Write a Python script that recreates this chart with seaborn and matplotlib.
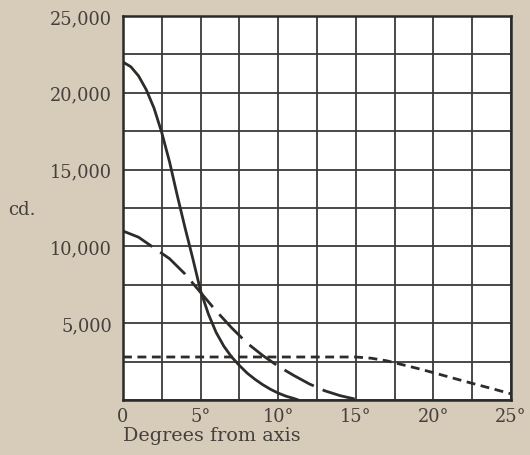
import numpy as np
import pandas as pd
import seaborn as sns
import matplotlib.pyplot as plt
from matplotlib.ticker import MultipleLocator

# curves (degrees, candela)
solid_deg = [0, 0.5, 1, 1.5, 2, 2.5, 3, 3.5, 4, 4.5, 5, 5.5, 6, 6.5, 7, 7.5, 8, 8.5, 9, 9.5, 10, 10.5, 11, 11.3]
solid_cd = [22000, 21700, 21100, 20200, 19000, 17400, 15500, 13300, 11200, 9200, 7100, 5600,
            4400, 3500, 2800, 2250, 1750, 1350, 1000, 700, 450, 250, 100, 0]

long_deg = [0, 1, 2, 3, 4, 5, 6, 7, 8, 9, 10, 11, 12, 13, 14, 15, 15.4]
long_cd = [11000, 10600, 9900, 9200, 8200, 7000, 5800, 4700, 3700, 2900, 2200, 1600, 1050, 600, 280, 50, 0]

short_deg = [0, 5, 10, 15, 16, 17, 18, 19, 20, 21, 22, 23, 24, 25]
short_cd = [2800, 2800, 2800, 2800, 2720, 2550, 2300, 2050, 1780, 1500, 1220, 950, 680, 400]

xticks = [0, 5, 10, 15, 20, 25]
xlabels = ["0", "5°", "10°", "15°", "20°", "25°"]
yticks = [5000, 10000, 15000, 20000, 25000]
ylabels = ["5,000", "10,000", "15,000", "20,000", "25,000"]

bg = "#d7cbba"
ink = "#45403b"

sns.set_theme(style="white")
plt.rcParams['font.family'] = ['DejaVu Serif']

fig = plt.figure(figsize=(5.3, 4.56), dpi=100, facecolor=bg)
ax = fig.add_axes([123/530, 1-401/456, 388/530, 384/456])
ax.set_facecolor("white")

sns.lineplot(x=solid_deg, y=solid_cd, ax=ax, color="#2e2b28", lw=2.0)
sns.lineplot(x=long_deg, y=long_cd, ax=ax, color="#2e2b28", lw=2.0)
ax.lines[-1].set_dashes([12, 3.5])
sns.lineplot(x=short_deg, y=short_cd, ax=ax, color="#2e2b28", lw=2.0)
ax.lines[-1].set_dashes([3.2, 2])

ax.set_xlim(0, 25)
ax.set_ylim(0, 25000)
ax.set_xticks(xticks)
ax.set_xticklabels(xlabels)
ax.set_yticks(yticks)
ax.set_yticklabels(ylabels)
ax.xaxis.set_minor_locator(MultipleLocator(2.5))
ax.yaxis.set_minor_locator(MultipleLocator(2500))
ax.grid(True, which="both", color="#3a3a3a", lw=1.3)
ax.set_axisbelow(True)
ax.tick_params(which="both", length=0, labelsize=12.8, labelcolor=ink)
ax.tick_params(axis="x", pad=5)
ax.tick_params(axis="y", pad=8)
for s in ax.spines.values():
    s.set_color("#2a2a2a")
    s.set_linewidth(1.8)

ax.set_xlabel("Degrees from axis", fontsize=13.8, color=ink, loc="left", labelpad=1)
ax.set_ylabel("cd.", fontsize=13, color=ink, rotation=0, ha="left", va="center")
ax.yaxis.set_label_coords(-0.297, 0.497)

fig.savefig("out.png", dpi=100, facecolor=bg)
